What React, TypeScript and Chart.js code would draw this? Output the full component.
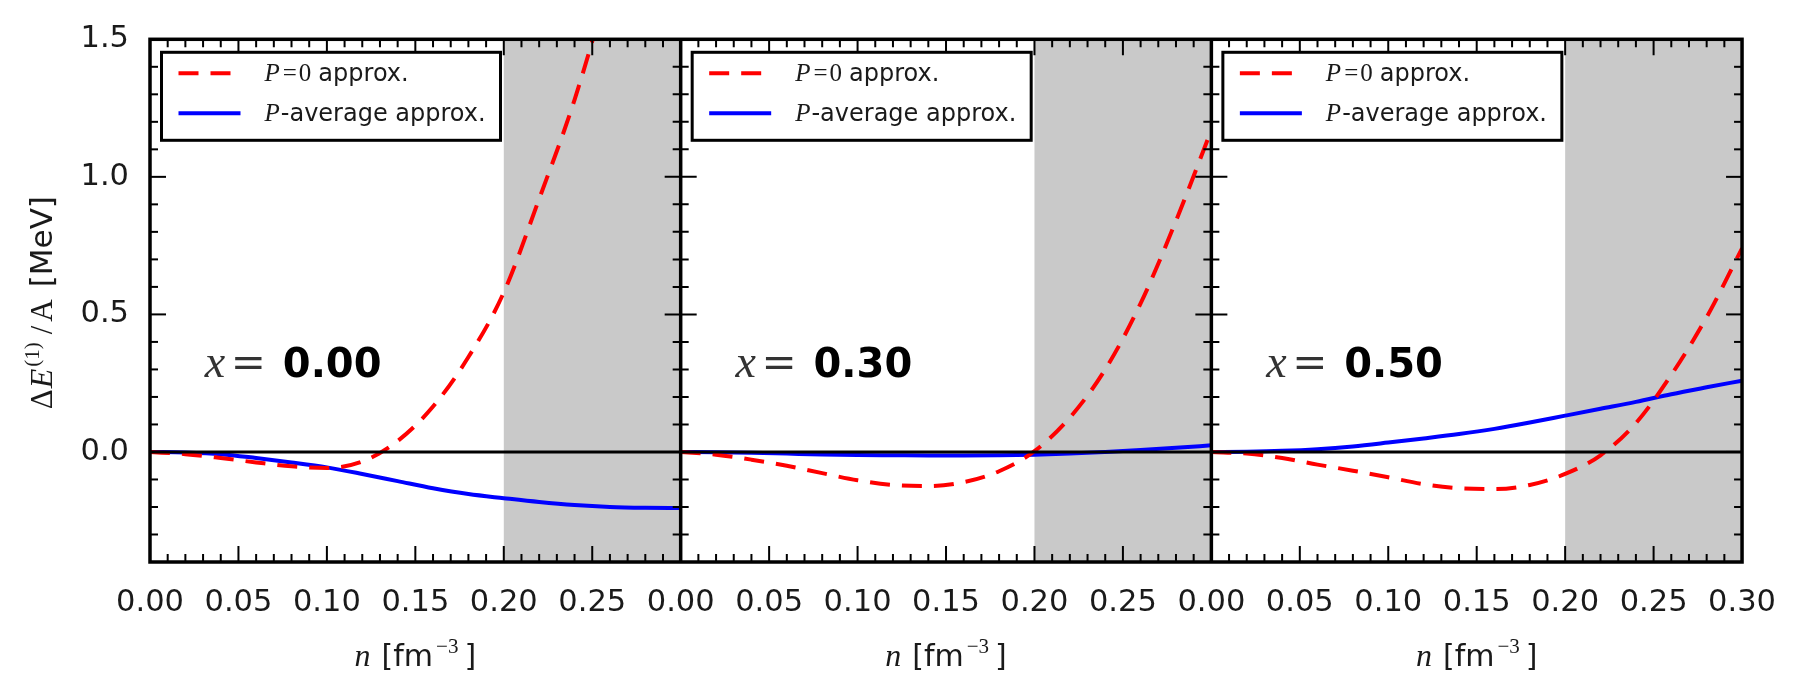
import React, { useEffect, useRef } from 'react';
import { Chart, registerables } from 'chart.js';

Chart.register(...registerables);

// ---- data ----
const DENSITY = [0, 0.02, 0.04, 0.06, 0.08, 0.10, 0.12, 0.14, 0.16, 0.18, 0.20, 0.22, 0.24, 0.26, 0.28, 0.30];

const PANEL_LABELS = ['0.00', '0.30', '0.50'];

// P=0 approximation, per panel
const P0_X000 = [0, -0.008, -0.022, -0.038, -0.052, -0.058, -0.035, 0.04, 0.165, 0.345, 0.58, 0.92, 1.28, 1.72, 2.2, 2.75];
const P0_X030 = [0, -0.01, -0.028, -0.05, -0.077, -0.103, -0.12, -0.124, -0.11, -0.07, 0.003, 0.125, 0.3, 0.54, 0.84, 1.17];
const P0_X050 = [0, -0.006, -0.022, -0.046, -0.068, -0.092, -0.117, -0.132, -0.135, -0.12, -0.08, -0.012, 0.105, 0.28, 0.49, 0.74];

// P-average approximation, per panel
const PAVG_X000 = [0, -0.002, -0.008, -0.022, -0.038, -0.056, -0.08, -0.106, -0.132, -0.153, -0.168, -0.182, -0.193, -0.2, -0.203, -0.204];
const PAVG_X030 = [0, -0.001, -0.003, -0.006, -0.009, -0.011, -0.012, -0.013, -0.013, -0.012, -0.01, -0.006, 0.0, 0.007, 0.015, 0.024];
const PAVG_X050 = [0, 0.001, 0.004, 0.01, 0.02, 0.034, 0.049, 0.065, 0.084, 0.107, 0.132, 0.157, 0.182, 0.21, 0.235, 0.259];

const P0_SERIES = [P0_X000, P0_X030, P0_X050];
const PAVG_SERIES = [PAVG_X000, PAVG_X030, PAVG_X050];

const PANEL_RANGE = 0.3; // n range of each panel
const SHADE_FROM = 0.2; // shaded density region start
const X_STEP = 0.05;
const Y_MIN = -0.4;
const Y_MAX = 1.5;
const Y_STEP = 0.5;
const ANNOT_N = 0.031;
const ANNOT_E = 0.272;

const RED = '#ff0000';
const BLUE = '#0000ff';
const GRAY = '#c9c9c9';
const TXT = '#1a1a1a';
const SANS = "'DejaVu Sans'";
const SERIF = "'Liberation Serif'";

type Run = { text: string; font: string; dy?: number; gap?: number };

function runsWidth(ctx: CanvasRenderingContext2D, runs: Run[]) {
  let w = 0;
  for (const r of runs) {
    ctx.font = r.font;
    w += (r.gap || 0) + ctx.measureText(r.text).width;
  }
  return w;
}

function drawRuns(ctx: CanvasRenderingContext2D, runs: Run[], x: number, y: number) {
  let cx = x;
  for (const r of runs) {
    cx += r.gap || 0;
    ctx.font = r.font;
    ctx.fillText(r.text, cx, y + (r.dy || 0));
    cx += ctx.measureText(r.text).width;
  }
}

const panelPlugin = {
  id: 'panelPlugin',
  beforeDatasetsDraw(chart: any) {
    const { ctx, chartArea: a, scales } = chart;
    const xs = scales.x;
    ctx.save();
    ctx.fillStyle = GRAY;
    for (let i = 0; i < PANEL_LABELS.length; i++) {
      const x0 = xs.getPixelForValue(i * PANEL_RANGE + SHADE_FROM);
      const x1 = xs.getPixelForValue((i + 1) * PANEL_RANGE);
      ctx.fillRect(x0, a.top, x1 - x0, a.bottom - a.top);
    }
    ctx.restore();
  },
  afterDatasetsDraw(chart: any) {
    const { ctx, chartArea: a, scales } = chart;
    const xs = scales.x;
    const ys = scales.y;
    const nPanels = PANEL_LABELS.length;
    ctx.save();

    // zero line
    const y0 = ys.getPixelForValue(0);
    ctx.strokeStyle = '#000';
    ctx.lineWidth = 3;
    ctx.beginPath();
    ctx.moveTo(a.left, y0);
    ctx.lineTo(a.right, y0);
    ctx.stroke();

    // x ticks (every 0.01, major every 0.05), top and bottom, inward
    ctx.lineWidth = 2;
    const perPanel = Math.round(PANEL_RANGE * 100);
    for (let k = 0; k <= perPanel * nPanels; k++) {
      if (k % perPanel === 0) continue;
      const len = k % 5 === 0 ? 16 : 8;
      const px = xs.getPixelForValue(k / 100);
      ctx.beginPath();
      ctx.moveTo(px, a.bottom);
      ctx.lineTo(px, a.bottom - len);
      ctx.moveTo(px, a.top);
      ctx.lineTo(px, a.top + len);
      ctx.stroke();
    }
    // y ticks (every 0.1, major every 0.5), on each panel side, inward
    for (let k = Math.round(Y_MIN * 10) + 1; k < Math.round(Y_MAX * 10); k++) {
      const len = k % 5 === 0 ? 16 : 8;
      const py = ys.getPixelForValue(k / 10);
      for (let i = 0; i <= nPanels; i++) {
        const bx = xs.getPixelForValue(i * PANEL_RANGE);
        ctx.beginPath();
        if (i < nPanels) {
          ctx.moveTo(bx, py);
          ctx.lineTo(bx + len, py);
        }
        if (i > 0) {
          ctx.moveTo(bx, py);
          ctx.lineTo(bx - len, py);
        }
        ctx.stroke();
      }
    }

    // frame and panel separators
    ctx.lineWidth = 3.5;
    ctx.strokeRect(a.left, a.top, a.right - a.left, a.bottom - a.top);
    for (let i = 1; i < nPanels; i++) {
      const bx = xs.getPixelForValue(i * PANEL_RANGE);
      ctx.beginPath();
      ctx.moveTo(bx, a.top);
      ctx.lineTo(bx, a.bottom);
      ctx.stroke();
    }

    const dsets = chart.data.datasets;
    for (let i = 0; i < nPanels; i++) {
      const left = xs.getPixelForValue(i * PANEL_RANGE);
      const right = xs.getPixelForValue((i + 1) * PANEL_RANGE);

      // legend box
      const bx = left + 11.5;
      const by = a.top + 13;
      const bw = 339;
      const bh = 88;
      ctx.fillStyle = '#fff';
      ctx.fillRect(bx, by, bw, bh);
      ctx.strokeStyle = '#000';
      ctx.lineWidth = 3;
      ctx.strokeRect(bx, by, bw, bh);

      const rows = [dsets[i * 2], dsets[i * 2 + 1]];
      rows.forEach((ds: any, r: number) => {
        const ly = by + 21 + r * 40;
        ctx.strokeStyle = ds.borderColor;
        ctx.lineWidth = ds.borderWidth;
        ctx.setLineDash(ds.borderDash || []);
        ctx.beginPath();
        ctx.moveTo(bx + 17, ly);
        ctx.lineTo(bx + 79, ly);
        ctx.stroke();
        ctx.setLineDash([]);
        ctx.fillStyle = TXT;
        ctx.textBaseline = 'alphabetic';
        ctx.textAlign = 'left';
        const runs: Run[] = r === 0
          ? [
              { text: 'P', font: `italic 25px ${SERIF}` },
              { text: '=', font: `25px ${SERIF}`, gap: 3 },
              { text: '0', font: `25px ${SERIF}`, gap: 2 },
              { text: 'approx.', font: `24px ${SANS}`, gap: 7 },
            ]
          : [
              { text: 'P', font: `italic 25px ${SERIF}` },
              { text: '-average approx.', font: `24px ${SANS}`, gap: 1 },
            ];
        drawRuns(ctx, runs, bx + 103, ly + 8);
      });

      // annotation x = value
      const ax = xs.getPixelForValue(i * PANEL_RANGE + ANNOT_N);
      const ay = ys.getPixelForValue(ANNOT_E);
      ctx.fillStyle = '#333';
      ctx.font = `italic 46px ${SERIF}`;
      ctx.fillText('x', ax, ay);
      ctx.font = `42px 'DejaVu Serif'`;
      ctx.fillText('=', ax + 26, ay);
      ctx.fillStyle = '#000';
      ctx.font = `bold 40px ${SANS}`;
      ctx.fillText(PANEL_LABELS[i], ax + 78, ay);

      // x axis title per panel
      ctx.fillStyle = TXT;
      const xr: Run[] = [
        { text: 'n', font: `italic 32px ${SERIF}` },
        { text: '[fm', font: `30px ${SANS}`, gap: 11 },
        { text: '\u22123', font: `21px ${SERIF}`, dy: -13, gap: 3 },
        { text: ']', font: `30px ${SANS}`, gap: 6 },
      ];
      const w = runsWidth(ctx, xr);
      drawRuns(ctx, xr, (left + right) / 2 - w / 2, 666);
    }

    // y axis title
    const yr: Run[] = [
      { text: '\u0394', font: `31px ${SERIF}` },
      { text: 'E', font: `italic 32px ${SERIF}`, gap: 1 },
      { text: '(1)', font: `21px ${SERIF}`, dy: -13, gap: 2 },
      { text: '/', font: `31px ${SERIF}`, gap: 8 },
      { text: 'A', font: `31px ${SERIF}`, gap: 4 },
      { text: '[MeV]', font: `31px ${SANS}`, gap: 12 },
    ];
    const yw = runsWidth(ctx, yr);
    const cy = (a.top + a.bottom) / 2 + 2;
    ctx.translate(52, cy + yw / 2);
    ctx.rotate(-Math.PI / 2);
    ctx.fillStyle = TXT;
    drawRuns(ctx, yr, 0, 0);

    ctx.restore();
  },
};

function xTickLabel(v: number) {
  const k = Math.round(v * 100);
  const per = Math.round(PANEL_RANGE * 100);
  const total = per * PANEL_LABELS.length;
  const local = k === total ? per : k % per;
  return (local / 100).toFixed(2);
}

export default function App() {
  const ref = useRef<HTMLCanvasElement | null>(null);

  useEffect(() => {
    document.body.style.margin = '0';
    const canvas = ref.current;
    if (!canvas) return;

    const datasets: any[] = [];
    for (let i = 0; i < PANEL_LABELS.length; i++) {
      datasets.push({
        label: 'P=0 approx.',
        data: DENSITY.map((n, j) => ({ x: n + i * PANEL_RANGE, y: P0_SERIES[i][j] })),
        borderColor: RED,
        borderWidth: 4,
        borderDash: [20, 12],
        pointRadius: 0,
        fill: false,
        cubicInterpolationMode: 'monotone',
      });
      datasets.push({
        label: 'P-average approx.',
        data: DENSITY.map((n, j) => ({ x: n + i * PANEL_RANGE, y: PAVG_SERIES[i][j] })),
        borderColor: BLUE,
        borderWidth: 4,
        pointRadius: 0,
        fill: false,
        cubicInterpolationMode: 'monotone',
      });
    }

    const chart = new Chart(canvas, {
      type: 'line',
      data: { datasets },
      options: {
        animation: false,
        responsive: false,
        devicePixelRatio: 1,
        layout: { padding: { top: 25, right: 52, left: 0, bottom: 0 } },
        plugins: {
          legend: { display: false },
          tooltip: { enabled: false },
        },
        scales: {
          x: {
            type: 'linear',
            min: 0,
            max: PANEL_RANGE * PANEL_LABELS.length,
            grid: { display: false, drawTicks: false },
            border: { display: false },
            afterFit: (s: any) => { s.height = 111; },
            ticks: {
              stepSize: X_STEP,
              autoSkip: false,
              maxRotation: 0,
              includeBounds: false,
              padding: 23,
              color: TXT,
              font: { family: 'DejaVu Sans', size: 30.5 },
              callback: (v: any) => xTickLabel(Number(v)),
            },
          },
          y: {
            type: 'linear',
            min: Y_MIN,
            max: Y_MAX,
            grid: { display: false, drawTicks: false },
            border: { display: false },
            afterFit: (s: any) => { s.width = 150; },
            ticks: {
              stepSize: Y_STEP,
              includeBounds: false,
              padding: 21,
              color: TXT,
              font: { family: 'DejaVu Sans', size: 30.5 },
              callback: (v: any) => Number(v).toFixed(1),
            },
          },
        },
      },
      plugins: [panelPlugin],
    } as any);

    return () => chart.destroy();
  }, []);

  return <canvas ref={ref} width={1799} height={673} style={{ display: 'block' }} />;
}
